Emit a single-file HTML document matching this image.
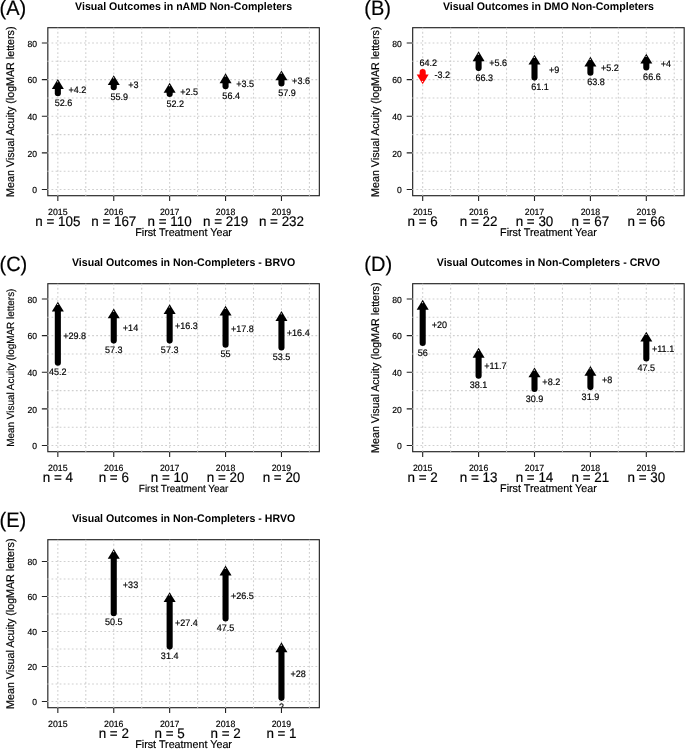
<!DOCTYPE html><html><head><meta charset="utf-8"><style>
html,body{margin:0;padding:0;background:#fff;}
svg{display:block;will-change:transform;}
text{font-family:"Liberation Sans", sans-serif;text-rendering:geometricPrecision;}
</style></head><body>
<svg width="685" height="749" viewBox="0 0 685 749">
<rect width="685" height="749" fill="#fff"/>
<g transform="translate(0,0)">
<clipPath id="c0"><rect x="47.83" y="27.7" width="271.51" height="168"/></clipPath>
<text font-size="20.8" stroke="#000" stroke-width="0.18" fill="#000" transform="translate(-0.5,14.5) scale(0.9615,1)">(A)</text>
<text font-size="11.02" font-weight="bold" text-anchor="middle" fill="#000" transform="translate(183.58,9.5) scale(0.9615,1)">Visual Outcomes in nAMD Non-Completers</text>
<rect x="47.83" y="27.7" width="271.51" height="168" fill="none" stroke="#222" stroke-width="1.15"/>
<text font-size="8.94" text-anchor="end" stroke="#000" stroke-width="0.18" fill="#000" transform="translate(37,193.25) scale(0.9615,1)">0</text>
<text font-size="8.94" text-anchor="end" stroke="#000" stroke-width="0.18" fill="#000" transform="translate(37,156.61) scale(0.9615,1)">20</text>
<text font-size="8.94" text-anchor="end" stroke="#000" stroke-width="0.18" fill="#000" transform="translate(37,119.97) scale(0.9615,1)">40</text>
<text font-size="8.94" text-anchor="end" stroke="#000" stroke-width="0.18" fill="#000" transform="translate(37,83.34) scale(0.9615,1)">60</text>
<text font-size="8.94" text-anchor="end" stroke="#000" stroke-width="0.18" fill="#000" transform="translate(37,46.7) scale(0.9615,1)">80</text>
<path d="M41.85 189.55H47.83M41.85 152.91H47.83M41.85 116.27H47.83M41.85 79.64H47.83M41.85 43H47.83M57.84 195.7V200.9M113.75 195.7V200.9M169.65 195.7V200.9M225.56 195.7V200.9M281.46 195.7V200.9" stroke="#222" stroke-width="1.1" fill="none"/>
<path d="M57.84 27.77V195.7M85.79 27.77V195.7M113.75 27.77V195.7M141.7 27.77V195.7M169.65 27.77V195.7M197.6 27.77V195.7M225.56 27.77V195.7M253.51 27.77V195.7M281.46 27.77V195.7M309.41 27.77V195.7M47.46 189.55H319.34M47.46 171.23H319.34M47.46 152.91H319.34M47.46 134.59H319.34M47.46 116.27H319.34M47.46 97.96H319.34M47.46 79.64H319.34M47.46 61.32H319.34M47.46 43H319.34" stroke="#d0d0d0" stroke-width="1.1" stroke-dasharray="1.8 2.26" fill="none"/>
<text font-size="9.1" text-anchor="middle" stroke="#000" stroke-width="0.18" fill="#000" transform="translate(57.84,214.7) scale(0.9615,1)">2015</text>
<text font-size="13.94" text-anchor="middle" stroke="#000" stroke-width="0.18" fill="#000" transform="translate(57.84,225.6) scale(0.9615,1)">n = 105</text>
<text font-size="9.1" text-anchor="middle" stroke="#000" stroke-width="0.18" fill="#000" transform="translate(113.75,214.7) scale(0.9615,1)">2016</text>
<text font-size="13.94" text-anchor="middle" stroke="#000" stroke-width="0.18" fill="#000" transform="translate(113.75,225.6) scale(0.9615,1)">n = 167</text>
<text font-size="9.1" text-anchor="middle" stroke="#000" stroke-width="0.18" fill="#000" transform="translate(169.65,214.7) scale(0.9615,1)">2017</text>
<text font-size="13.94" text-anchor="middle" stroke="#000" stroke-width="0.18" fill="#000" transform="translate(169.65,225.6) scale(0.9615,1)">n = 110</text>
<text font-size="9.1" text-anchor="middle" stroke="#000" stroke-width="0.18" fill="#000" transform="translate(225.56,214.7) scale(0.9615,1)">2018</text>
<text font-size="13.94" text-anchor="middle" stroke="#000" stroke-width="0.18" fill="#000" transform="translate(225.56,225.6) scale(0.9615,1)">n = 219</text>
<text font-size="9.1" text-anchor="middle" stroke="#000" stroke-width="0.18" fill="#000" transform="translate(281.46,214.7) scale(0.9615,1)">2019</text>
<text font-size="13.94" text-anchor="middle" stroke="#000" stroke-width="0.18" fill="#000" transform="translate(281.46,225.6) scale(0.9615,1)">n = 232</text>
<text font-size="11.18" text-anchor="middle" stroke="#000" stroke-width="0.18" fill="#000" transform="translate(183.58,236.3) scale(0.9615,1)">First Treatment Year</text>
<text font-size="11.13" text-anchor="middle" stroke="#000" stroke-width="0.18" fill="#000" transform="translate(13.9,111.7) rotate(-90) scale(0.9615,1)">Mean Visual Acuity (logMAR letters)</text>
<g clip-path="url(#c0)">
<path d="M57.84 93.19V88.4" stroke="#000" stroke-width="6.1" stroke-linecap="round" fill="none"/>
<path d="M57.84 79L63.84 88.9L51.84 88.9Z" fill="#000"/>
<ellipse cx="57.64" cy="81.8" rx="0.7" ry="0.6" fill="#ddd"/>
<text font-size="9.41" text-anchor="middle" stroke="#000" stroke-width="0.18" fill="#000" transform="translate(63.43,105.85) scale(0.9615,1)">52.6</text>
<text font-size="9.41" text-anchor="middle" stroke="#000" stroke-width="0.18" fill="#000" transform="translate(77.41,92.85) scale(0.9615,1)">+4.2</text>
<path d="M113.75 87.15V84.55" stroke="#000" stroke-width="6.1" stroke-linecap="round" fill="none"/>
<path d="M113.75 75.15L119.75 85.05L107.75 85.05Z" fill="#000"/>
<ellipse cx="113.55" cy="77.95" rx="0.7" ry="0.6" fill="#ddd"/>
<text font-size="9.41" text-anchor="middle" stroke="#000" stroke-width="0.18" fill="#000" transform="translate(119.34,99.81) scale(0.9615,1)">55.9</text>
<text font-size="9.41" text-anchor="middle" stroke="#000" stroke-width="0.18" fill="#000" transform="translate(133.31,87.9) scale(0.9615,1)">+3</text>
<path d="M169.65 93.92V92.25" stroke="#000" stroke-width="6.1" stroke-linecap="round" fill="none"/>
<path d="M169.65 82.85L175.65 92.75L163.65 92.75Z" fill="#000"/>
<ellipse cx="169.45" cy="85.65" rx="0.7" ry="0.6" fill="#ddd"/>
<text font-size="9.41" text-anchor="middle" stroke="#000" stroke-width="0.18" fill="#000" transform="translate(175.24,106.58) scale(0.9615,1)">52.2</text>
<text font-size="9.41" text-anchor="middle" stroke="#000" stroke-width="0.18" fill="#000" transform="translate(189.22,95.13) scale(0.9615,1)">+2.5</text>
<path d="M225.56 86.23V82.72" stroke="#000" stroke-width="6.1" stroke-linecap="round" fill="none"/>
<path d="M225.56 73.32L231.56 83.22L219.56 83.22Z" fill="#000"/>
<ellipse cx="225.36" cy="76.12" rx="0.7" ry="0.6" fill="#ddd"/>
<text font-size="9.41" text-anchor="middle" stroke="#000" stroke-width="0.18" fill="#000" transform="translate(231.15,98.89) scale(0.9615,1)">56.4</text>
<text font-size="9.41" text-anchor="middle" stroke="#000" stroke-width="0.18" fill="#000" transform="translate(245.12,86.53) scale(0.9615,1)">+3.5</text>
<path d="M281.46 83.48V79.79" stroke="#000" stroke-width="6.1" stroke-linecap="round" fill="none"/>
<path d="M281.46 70.39L287.46 80.29L275.46 80.29Z" fill="#000"/>
<ellipse cx="281.26" cy="73.19" rx="0.7" ry="0.6" fill="#ddd"/>
<text font-size="9.41" text-anchor="middle" stroke="#000" stroke-width="0.18" fill="#000" transform="translate(287.05,96.14) scale(0.9615,1)">57.9</text>
<text font-size="9.41" text-anchor="middle" stroke="#000" stroke-width="0.18" fill="#000" transform="translate(301.03,83.69) scale(0.9615,1)">+3.6</text>
</g>
</g>
<g transform="translate(364.85,0)">
<clipPath id="c1"><rect x="47.83" y="27.7" width="271.51" height="168"/></clipPath>
<text font-size="20.8" stroke="#000" stroke-width="0.18" fill="#000" transform="translate(-0.5,14.5) scale(0.9615,1)">(B)</text>
<text font-size="11.02" font-weight="bold" text-anchor="middle" fill="#000" transform="translate(183.58,9.5) scale(0.9615,1)">Visual Outcomes in DMO Non-Completers</text>
<rect x="47.83" y="27.7" width="271.51" height="168" fill="none" stroke="#222" stroke-width="1.15"/>
<text font-size="8.94" text-anchor="end" stroke="#000" stroke-width="0.18" fill="#000" transform="translate(37,193.25) scale(0.9615,1)">0</text>
<text font-size="8.94" text-anchor="end" stroke="#000" stroke-width="0.18" fill="#000" transform="translate(37,156.61) scale(0.9615,1)">20</text>
<text font-size="8.94" text-anchor="end" stroke="#000" stroke-width="0.18" fill="#000" transform="translate(37,119.97) scale(0.9615,1)">40</text>
<text font-size="8.94" text-anchor="end" stroke="#000" stroke-width="0.18" fill="#000" transform="translate(37,83.34) scale(0.9615,1)">60</text>
<text font-size="8.94" text-anchor="end" stroke="#000" stroke-width="0.18" fill="#000" transform="translate(37,46.7) scale(0.9615,1)">80</text>
<path d="M41.85 189.55H47.83M41.85 152.91H47.83M41.85 116.27H47.83M41.85 79.64H47.83M41.85 43H47.83M57.84 195.7V200.9M113.75 195.7V200.9M169.65 195.7V200.9M225.56 195.7V200.9M281.46 195.7V200.9" stroke="#222" stroke-width="1.1" fill="none"/>
<path d="M57.84 27.77V195.7M85.79 27.77V195.7M113.75 27.77V195.7M141.7 27.77V195.7M169.65 27.77V195.7M197.6 27.77V195.7M225.56 27.77V195.7M253.51 27.77V195.7M281.46 27.77V195.7M309.41 27.77V195.7M47.46 189.55H319.34M47.46 171.23H319.34M47.46 152.91H319.34M47.46 134.59H319.34M47.46 116.27H319.34M47.46 97.96H319.34M47.46 79.64H319.34M47.46 61.32H319.34M47.46 43H319.34" stroke="#d0d0d0" stroke-width="1.1" stroke-dasharray="1.8 2.26" fill="none"/>
<text font-size="9.1" text-anchor="middle" stroke="#000" stroke-width="0.18" fill="#000" transform="translate(57.84,214.7) scale(0.9615,1)">2015</text>
<text font-size="13.94" text-anchor="middle" stroke="#000" stroke-width="0.18" fill="#000" transform="translate(57.84,225.6) scale(0.9615,1)">n = 6</text>
<text font-size="9.1" text-anchor="middle" stroke="#000" stroke-width="0.18" fill="#000" transform="translate(113.75,214.7) scale(0.9615,1)">2016</text>
<text font-size="13.94" text-anchor="middle" stroke="#000" stroke-width="0.18" fill="#000" transform="translate(113.75,225.6) scale(0.9615,1)">n = 22</text>
<text font-size="9.1" text-anchor="middle" stroke="#000" stroke-width="0.18" fill="#000" transform="translate(169.65,214.7) scale(0.9615,1)">2017</text>
<text font-size="13.94" text-anchor="middle" stroke="#000" stroke-width="0.18" fill="#000" transform="translate(169.65,225.6) scale(0.9615,1)">n = 30</text>
<text font-size="9.1" text-anchor="middle" stroke="#000" stroke-width="0.18" fill="#000" transform="translate(225.56,214.7) scale(0.9615,1)">2018</text>
<text font-size="13.94" text-anchor="middle" stroke="#000" stroke-width="0.18" fill="#000" transform="translate(225.56,225.6) scale(0.9615,1)">n = 67</text>
<text font-size="9.1" text-anchor="middle" stroke="#000" stroke-width="0.18" fill="#000" transform="translate(281.46,214.7) scale(0.9615,1)">2019</text>
<text font-size="13.94" text-anchor="middle" stroke="#000" stroke-width="0.18" fill="#000" transform="translate(281.46,225.6) scale(0.9615,1)">n = 66</text>
<text font-size="11.18" text-anchor="middle" stroke="#000" stroke-width="0.18" fill="#000" transform="translate(183.58,236.3) scale(0.9615,1)">First Treatment Year</text>
<text font-size="11.13" text-anchor="middle" stroke="#000" stroke-width="0.18" fill="#000" transform="translate(13.9,111.7) rotate(-90) scale(0.9615,1)">Mean Visual Acuity (logMAR letters)</text>
<g clip-path="url(#c1)">
<path d="M57.84 71.94V74.9" stroke="#f00" stroke-width="6.1" stroke-linecap="round" fill="none"/>
<path d="M57.84 84.3L63.84 74.4L51.84 74.4Z" fill="#f00"/>
<ellipse cx="57.64" cy="81.45" rx="0.7" ry="0.6" fill="#eee"/>
<text font-size="9.41" text-anchor="middle" stroke="#000" stroke-width="0.18" fill="#000" transform="translate(63.43,66.28) scale(0.9615,1)">64.2</text>
<text font-size="9.41" text-anchor="middle" stroke="#000" stroke-width="0.18" fill="#000" transform="translate(77.41,78.37) scale(0.9615,1)">-3.2</text>
<path d="M113.75 68.1V60.74" stroke="#000" stroke-width="6.1" stroke-linecap="round" fill="none"/>
<path d="M113.75 51.34L119.75 61.24L107.75 61.24Z" fill="#000"/>
<ellipse cx="113.55" cy="54.14" rx="0.7" ry="0.6" fill="#ddd"/>
<text font-size="9.41" text-anchor="middle" stroke="#000" stroke-width="0.18" fill="#000" transform="translate(119.34,80.75) scale(0.9615,1)">66.3</text>
<text font-size="9.41" text-anchor="middle" stroke="#000" stroke-width="0.18" fill="#000" transform="translate(133.31,66.47) scale(0.9615,1)">+5.6</text>
<path d="M169.65 77.62V64.03" stroke="#000" stroke-width="6.1" stroke-linecap="round" fill="none"/>
<path d="M169.65 54.63L175.65 64.53L163.65 64.53Z" fill="#000"/>
<ellipse cx="169.45" cy="57.43" rx="0.7" ry="0.6" fill="#ddd"/>
<text font-size="9.41" text-anchor="middle" stroke="#000" stroke-width="0.18" fill="#000" transform="translate(175.24,90.28) scale(0.9615,1)">61.1</text>
<text font-size="9.41" text-anchor="middle" stroke="#000" stroke-width="0.18" fill="#000" transform="translate(189.22,72.88) scale(0.9615,1)">+9</text>
<path d="M225.56 72.67V66.05" stroke="#000" stroke-width="6.1" stroke-linecap="round" fill="none"/>
<path d="M225.56 56.65L231.56 66.55L219.56 66.55Z" fill="#000"/>
<ellipse cx="225.36" cy="59.45" rx="0.7" ry="0.6" fill="#ddd"/>
<text font-size="9.41" text-anchor="middle" stroke="#000" stroke-width="0.18" fill="#000" transform="translate(231.15,85.33) scale(0.9615,1)">63.8</text>
<text font-size="9.41" text-anchor="middle" stroke="#000" stroke-width="0.18" fill="#000" transform="translate(245.12,71.41) scale(0.9615,1)">+5.2</text>
<path d="M281.46 67.55V63.12" stroke="#000" stroke-width="6.1" stroke-linecap="round" fill="none"/>
<path d="M281.46 53.72L287.46 63.62L275.46 63.62Z" fill="#000"/>
<ellipse cx="281.26" cy="56.52" rx="0.7" ry="0.6" fill="#ddd"/>
<text font-size="9.41" text-anchor="middle" stroke="#000" stroke-width="0.18" fill="#000" transform="translate(287.05,80.2) scale(0.9615,1)">66.6</text>
<text font-size="9.41" text-anchor="middle" stroke="#000" stroke-width="0.18" fill="#000" transform="translate(301.03,67.38) scale(0.9615,1)">+4</text>
</g>
</g>
<g transform="translate(0,256)">
<clipPath id="c2"><rect x="47.83" y="27.7" width="271.51" height="168"/></clipPath>
<text font-size="20.8" stroke="#000" stroke-width="0.18" fill="#000" transform="translate(-0.5,14.5) scale(0.9615,1)">(C)</text>
<text font-size="11.02" font-weight="bold" text-anchor="middle" fill="#000" transform="translate(183.58,9.5) scale(0.9615,1)">Visual Outcomes in Non-Completers - BRVO</text>
<rect x="47.83" y="27.7" width="271.51" height="168" fill="none" stroke="#222" stroke-width="1.15"/>
<text font-size="8.94" text-anchor="end" stroke="#000" stroke-width="0.18" fill="#000" transform="translate(37,193.25) scale(0.9615,1)">0</text>
<text font-size="8.94" text-anchor="end" stroke="#000" stroke-width="0.18" fill="#000" transform="translate(37,156.61) scale(0.9615,1)">20</text>
<text font-size="8.94" text-anchor="end" stroke="#000" stroke-width="0.18" fill="#000" transform="translate(37,119.97) scale(0.9615,1)">40</text>
<text font-size="8.94" text-anchor="end" stroke="#000" stroke-width="0.18" fill="#000" transform="translate(37,83.34) scale(0.9615,1)">60</text>
<text font-size="8.94" text-anchor="end" stroke="#000" stroke-width="0.18" fill="#000" transform="translate(37,46.7) scale(0.9615,1)">80</text>
<path d="M41.85 189.55H47.83M41.85 152.91H47.83M41.85 116.27H47.83M41.85 79.64H47.83M41.85 43H47.83M57.84 195.7V200.9M113.75 195.7V200.9M169.65 195.7V200.9M225.56 195.7V200.9M281.46 195.7V200.9" stroke="#222" stroke-width="1.1" fill="none"/>
<path d="M57.84 27.77V195.7M85.79 27.77V195.7M113.75 27.77V195.7M141.7 27.77V195.7M169.65 27.77V195.7M197.6 27.77V195.7M225.56 27.77V195.7M253.51 27.77V195.7M281.46 27.77V195.7M309.41 27.77V195.7M47.46 189.55H319.34M47.46 171.23H319.34M47.46 152.91H319.34M47.46 134.59H319.34M47.46 116.27H319.34M47.46 97.96H319.34M47.46 79.64H319.34M47.46 61.32H319.34M47.46 43H319.34" stroke="#d0d0d0" stroke-width="1.1" stroke-dasharray="1.8 2.26" fill="none"/>
<text font-size="9.1" text-anchor="middle" stroke="#000" stroke-width="0.18" fill="#000" transform="translate(57.84,214.7) scale(0.9615,1)">2015</text>
<text font-size="13.94" text-anchor="middle" stroke="#000" stroke-width="0.18" fill="#000" transform="translate(57.84,225.6) scale(0.9615,1)">n = 4</text>
<text font-size="9.1" text-anchor="middle" stroke="#000" stroke-width="0.18" fill="#000" transform="translate(113.75,214.7) scale(0.9615,1)">2016</text>
<text font-size="13.94" text-anchor="middle" stroke="#000" stroke-width="0.18" fill="#000" transform="translate(113.75,225.6) scale(0.9615,1)">n = 6</text>
<text font-size="9.1" text-anchor="middle" stroke="#000" stroke-width="0.18" fill="#000" transform="translate(169.65,214.7) scale(0.9615,1)">2017</text>
<text font-size="13.94" text-anchor="middle" stroke="#000" stroke-width="0.18" fill="#000" transform="translate(169.65,225.6) scale(0.9615,1)">n = 10</text>
<text font-size="9.1" text-anchor="middle" stroke="#000" stroke-width="0.18" fill="#000" transform="translate(225.56,214.7) scale(0.9615,1)">2018</text>
<text font-size="13.94" text-anchor="middle" stroke="#000" stroke-width="0.18" fill="#000" transform="translate(225.56,225.6) scale(0.9615,1)">n = 20</text>
<text font-size="9.1" text-anchor="middle" stroke="#000" stroke-width="0.18" fill="#000" transform="translate(281.46,214.7) scale(0.9615,1)">2019</text>
<text font-size="13.94" text-anchor="middle" stroke="#000" stroke-width="0.18" fill="#000" transform="translate(281.46,225.6) scale(0.9615,1)">n = 20</text>
<text font-size="10.35" text-anchor="middle" stroke="#000" stroke-width="0.18" fill="#000" transform="translate(183.58,236.3) scale(0.9615,1)">First Treatment Year</text>
<text font-size="10.33" text-anchor="middle" stroke="#000" stroke-width="0.18" fill="#000" transform="translate(14,111.7) rotate(-90) scale(0.9615,1)">Mean Visual Acuity (logMAR letters)</text>
<g clip-path="url(#c2)">
<path d="M57.84 106.75V55.06" stroke="#000" stroke-width="6.1" stroke-linecap="round" fill="none"/>
<path d="M57.84 45.66L63.84 55.56L51.84 55.56Z" fill="#000"/>
<ellipse cx="57.64" cy="48.46" rx="0.7" ry="0.6" fill="#ddd"/>
<text font-size="9.41" text-anchor="middle" stroke="#000" stroke-width="0.18" fill="#000" transform="translate(57.84,119.41) scale(0.9615,1)">45.2</text>
<text font-size="9.41" text-anchor="middle" stroke="#000" stroke-width="0.18" fill="#000" transform="translate(74.61,82.95) scale(0.9615,1)">+29.8</text>
<path d="M113.75 84.58V61.84" stroke="#000" stroke-width="6.1" stroke-linecap="round" fill="none"/>
<path d="M113.75 52.44L119.75 62.34L107.75 62.34Z" fill="#000"/>
<ellipse cx="113.55" cy="55.24" rx="0.7" ry="0.6" fill="#ddd"/>
<text font-size="9.41" text-anchor="middle" stroke="#000" stroke-width="0.18" fill="#000" transform="translate(113.75,97.24) scale(0.9615,1)">57.3</text>
<text font-size="9.41" text-anchor="middle" stroke="#000" stroke-width="0.18" fill="#000" transform="translate(130.52,75.26) scale(0.9615,1)">+14</text>
<path d="M169.65 84.58V57.62" stroke="#000" stroke-width="6.1" stroke-linecap="round" fill="none"/>
<path d="M169.65 48.22L175.65 58.12L163.65 58.12Z" fill="#000"/>
<ellipse cx="169.45" cy="51.02" rx="0.7" ry="0.6" fill="#ddd"/>
<text font-size="9.41" text-anchor="middle" stroke="#000" stroke-width="0.18" fill="#000" transform="translate(169.65,97.24) scale(0.9615,1)">57.3</text>
<text font-size="9.41" text-anchor="middle" stroke="#000" stroke-width="0.18" fill="#000" transform="translate(186.42,73.15) scale(0.9615,1)">+16.3</text>
<path d="M225.56 88.8V59.09" stroke="#000" stroke-width="6.1" stroke-linecap="round" fill="none"/>
<path d="M225.56 49.69L231.56 59.59L219.56 59.59Z" fill="#000"/>
<ellipse cx="225.36" cy="52.49" rx="0.7" ry="0.6" fill="#ddd"/>
<text font-size="9.41" text-anchor="middle" stroke="#000" stroke-width="0.18" fill="#000" transform="translate(225.56,101.46) scale(0.9615,1)">55</text>
<text font-size="9.41" text-anchor="middle" stroke="#000" stroke-width="0.18" fill="#000" transform="translate(242.33,75.99) scale(0.9615,1)">+17.8</text>
<path d="M281.46 91.54V64.4" stroke="#000" stroke-width="6.1" stroke-linecap="round" fill="none"/>
<path d="M281.46 55L287.46 64.9L275.46 64.9Z" fill="#000"/>
<ellipse cx="281.26" cy="57.8" rx="0.7" ry="0.6" fill="#ddd"/>
<text font-size="9.41" text-anchor="middle" stroke="#000" stroke-width="0.18" fill="#000" transform="translate(281.46,104.2) scale(0.9615,1)">53.5</text>
<text font-size="9.41" text-anchor="middle" stroke="#000" stroke-width="0.18" fill="#000" transform="translate(298.23,80.02) scale(0.9615,1)">+16.4</text>
</g>
</g>
<g transform="translate(364.85,256)">
<clipPath id="c3"><rect x="47.83" y="27.7" width="271.51" height="168"/></clipPath>
<text font-size="20.8" stroke="#000" stroke-width="0.18" fill="#000" transform="translate(-0.5,14.5) scale(0.9615,1)">(D)</text>
<text font-size="11.02" font-weight="bold" text-anchor="middle" fill="#000" transform="translate(183.58,9.5) scale(0.9615,1)">Visual Outcomes in Non-Completers - CRVO</text>
<rect x="47.83" y="27.7" width="271.51" height="168" fill="none" stroke="#222" stroke-width="1.15"/>
<text font-size="8.94" text-anchor="end" stroke="#000" stroke-width="0.18" fill="#000" transform="translate(37,193.25) scale(0.9615,1)">0</text>
<text font-size="8.94" text-anchor="end" stroke="#000" stroke-width="0.18" fill="#000" transform="translate(37,156.61) scale(0.9615,1)">20</text>
<text font-size="8.94" text-anchor="end" stroke="#000" stroke-width="0.18" fill="#000" transform="translate(37,119.97) scale(0.9615,1)">40</text>
<text font-size="8.94" text-anchor="end" stroke="#000" stroke-width="0.18" fill="#000" transform="translate(37,83.34) scale(0.9615,1)">60</text>
<text font-size="8.94" text-anchor="end" stroke="#000" stroke-width="0.18" fill="#000" transform="translate(37,46.7) scale(0.9615,1)">80</text>
<path d="M41.85 189.55H47.83M41.85 152.91H47.83M41.85 116.27H47.83M41.85 79.64H47.83M41.85 43H47.83M57.84 195.7V200.9M113.75 195.7V200.9M169.65 195.7V200.9M225.56 195.7V200.9M281.46 195.7V200.9" stroke="#222" stroke-width="1.1" fill="none"/>
<path d="M57.84 27.77V195.7M85.79 27.77V195.7M113.75 27.77V195.7M141.7 27.77V195.7M169.65 27.77V195.7M197.6 27.77V195.7M225.56 27.77V195.7M253.51 27.77V195.7M281.46 27.77V195.7M309.41 27.77V195.7M47.46 189.55H319.34M47.46 171.23H319.34M47.46 152.91H319.34M47.46 134.59H319.34M47.46 116.27H319.34M47.46 97.96H319.34M47.46 79.64H319.34M47.46 61.32H319.34M47.46 43H319.34" stroke="#d0d0d0" stroke-width="1.1" stroke-dasharray="1.8 2.26" fill="none"/>
<text font-size="9.1" text-anchor="middle" stroke="#000" stroke-width="0.18" fill="#000" transform="translate(57.84,214.7) scale(0.9615,1)">2015</text>
<text font-size="13.94" text-anchor="middle" stroke="#000" stroke-width="0.18" fill="#000" transform="translate(57.84,225.6) scale(0.9615,1)">n = 2</text>
<text font-size="9.1" text-anchor="middle" stroke="#000" stroke-width="0.18" fill="#000" transform="translate(113.75,214.7) scale(0.9615,1)">2016</text>
<text font-size="13.94" text-anchor="middle" stroke="#000" stroke-width="0.18" fill="#000" transform="translate(113.75,225.6) scale(0.9615,1)">n = 13</text>
<text font-size="9.1" text-anchor="middle" stroke="#000" stroke-width="0.18" fill="#000" transform="translate(169.65,214.7) scale(0.9615,1)">2017</text>
<text font-size="13.94" text-anchor="middle" stroke="#000" stroke-width="0.18" fill="#000" transform="translate(169.65,225.6) scale(0.9615,1)">n = 14</text>
<text font-size="9.1" text-anchor="middle" stroke="#000" stroke-width="0.18" fill="#000" transform="translate(225.56,214.7) scale(0.9615,1)">2018</text>
<text font-size="13.94" text-anchor="middle" stroke="#000" stroke-width="0.18" fill="#000" transform="translate(225.56,225.6) scale(0.9615,1)">n = 21</text>
<text font-size="9.1" text-anchor="middle" stroke="#000" stroke-width="0.18" fill="#000" transform="translate(281.46,214.7) scale(0.9615,1)">2019</text>
<text font-size="13.94" text-anchor="middle" stroke="#000" stroke-width="0.18" fill="#000" transform="translate(281.46,225.6) scale(0.9615,1)">n = 30</text>
<text font-size="11.18" text-anchor="middle" stroke="#000" stroke-width="0.18" fill="#000" transform="translate(183.58,236.3) scale(0.9615,1)">First Treatment Year</text>
<text font-size="11.13" text-anchor="middle" stroke="#000" stroke-width="0.18" fill="#000" transform="translate(13.9,111.7) rotate(-90) scale(0.9615,1)">Mean Visual Acuity (logMAR letters)</text>
<g clip-path="url(#c3)">
<path d="M57.84 86.96V53.23" stroke="#000" stroke-width="6.1" stroke-linecap="round" fill="none"/>
<path d="M57.84 43.83L63.84 53.73L51.84 53.73Z" fill="#000"/>
<ellipse cx="57.64" cy="46.63" rx="0.7" ry="0.6" fill="#ddd"/>
<text font-size="9.41" text-anchor="middle" stroke="#000" stroke-width="0.18" fill="#000" transform="translate(57.84,99.62) scale(0.9615,1)">56</text>
<text font-size="9.41" text-anchor="middle" stroke="#000" stroke-width="0.18" fill="#000" transform="translate(74.61,72.14) scale(0.9615,1)">+20</text>
<path d="M113.75 119.75V101.22" stroke="#000" stroke-width="6.1" stroke-linecap="round" fill="none"/>
<path d="M113.75 91.82L119.75 101.72L107.75 101.72Z" fill="#000"/>
<ellipse cx="113.55" cy="94.62" rx="0.7" ry="0.6" fill="#ddd"/>
<text font-size="9.41" text-anchor="middle" stroke="#000" stroke-width="0.18" fill="#000" transform="translate(113.75,132.41) scale(0.9615,1)">38.1</text>
<text font-size="9.41" text-anchor="middle" stroke="#000" stroke-width="0.18" fill="#000" transform="translate(130.52,112.54) scale(0.9615,1)">+11.7</text>
<path d="M169.65 132.94V120.82" stroke="#000" stroke-width="6.1" stroke-linecap="round" fill="none"/>
<path d="M169.65 111.42L175.65 121.32L163.65 121.32Z" fill="#000"/>
<ellipse cx="169.45" cy="114.22" rx="0.7" ry="0.6" fill="#ddd"/>
<text font-size="9.41" text-anchor="middle" stroke="#000" stroke-width="0.18" fill="#000" transform="translate(169.65,145.6) scale(0.9615,1)">30.9</text>
<text font-size="9.41" text-anchor="middle" stroke="#000" stroke-width="0.18" fill="#000" transform="translate(186.42,128.93) scale(0.9615,1)">+8.2</text>
<path d="M225.56 131.11V119.36" stroke="#000" stroke-width="6.1" stroke-linecap="round" fill="none"/>
<path d="M225.56 109.96L231.56 119.86L219.56 119.86Z" fill="#000"/>
<ellipse cx="225.36" cy="112.76" rx="0.7" ry="0.6" fill="#ddd"/>
<text font-size="9.41" text-anchor="middle" stroke="#000" stroke-width="0.18" fill="#000" transform="translate(225.56,143.77) scale(0.9615,1)">31.9</text>
<text font-size="9.41" text-anchor="middle" stroke="#000" stroke-width="0.18" fill="#000" transform="translate(242.33,127.28) scale(0.9615,1)">+8</text>
<path d="M281.46 102.53V85.1" stroke="#000" stroke-width="6.1" stroke-linecap="round" fill="none"/>
<path d="M281.46 75.7L287.46 85.6L275.46 85.6Z" fill="#000"/>
<ellipse cx="281.26" cy="78.5" rx="0.7" ry="0.6" fill="#ddd"/>
<text font-size="9.41" text-anchor="middle" stroke="#000" stroke-width="0.18" fill="#000" transform="translate(281.46,115.19) scale(0.9615,1)">47.5</text>
<text font-size="9.41" text-anchor="middle" stroke="#000" stroke-width="0.18" fill="#000" transform="translate(298.23,95.87) scale(0.9615,1)">+11.1</text>
</g>
</g>
<g transform="translate(0,512)">
<clipPath id="c4"><rect x="47.83" y="27.7" width="271.51" height="168"/></clipPath>
<text font-size="20.8" stroke="#000" stroke-width="0.18" fill="#000" transform="translate(-0.5,14.5) scale(0.9615,1)">(E)</text>
<text font-size="11.02" font-weight="bold" text-anchor="middle" fill="#000" transform="translate(183.58,9.5) scale(0.9615,1)">Visual Outcomes in Non-Completers - HRVO</text>
<rect x="47.83" y="27.7" width="271.51" height="168" fill="none" stroke="#222" stroke-width="1.15"/>
<text font-size="8.94" text-anchor="end" stroke="#000" stroke-width="0.18" fill="#000" transform="translate(37,193.23) scale(0.9615,1)">0</text>
<text font-size="8.94" text-anchor="end" stroke="#000" stroke-width="0.18" fill="#000" transform="translate(37,158.23) scale(0.9615,1)">20</text>
<text font-size="8.94" text-anchor="end" stroke="#000" stroke-width="0.18" fill="#000" transform="translate(37,123.23) scale(0.9615,1)">40</text>
<text font-size="8.94" text-anchor="end" stroke="#000" stroke-width="0.18" fill="#000" transform="translate(37,88.23) scale(0.9615,1)">60</text>
<text font-size="8.94" text-anchor="end" stroke="#000" stroke-width="0.18" fill="#000" transform="translate(37,53.23) scale(0.9615,1)">80</text>
<path d="M41.85 189.53H47.83M41.85 154.53H47.83M41.85 119.53H47.83M41.85 84.53H47.83M41.85 49.53H47.83M57.84 195.7V200.9M113.75 195.7V200.9M169.65 195.7V200.9M225.56 195.7V200.9M281.46 195.7V200.9" stroke="#222" stroke-width="1.1" fill="none"/>
<path d="M57.84 27.77V195.7M85.79 27.77V195.7M113.75 27.77V195.7M141.7 27.77V195.7M169.65 27.77V195.7M197.6 27.77V195.7M225.56 27.77V195.7M253.51 27.77V195.7M281.46 27.77V195.7M309.41 27.77V195.7M47.46 189.53H319.34M47.46 172.03H319.34M47.46 154.53H319.34M47.46 137.03H319.34M47.46 119.53H319.34M47.46 102.03H319.34M47.46 84.53H319.34M47.46 67.03H319.34M47.46 49.53H319.34" stroke="#d0d0d0" stroke-width="1.1" stroke-dasharray="1.8 2.26" fill="none"/>
<text font-size="9.1" text-anchor="middle" stroke="#000" stroke-width="0.18" fill="#000" transform="translate(57.84,214.7) scale(0.9615,1)">2015</text>
<text font-size="9.1" text-anchor="middle" stroke="#000" stroke-width="0.18" fill="#000" transform="translate(113.75,214.7) scale(0.9615,1)">2016</text>
<text font-size="13.94" text-anchor="middle" stroke="#000" stroke-width="0.18" fill="#000" transform="translate(113.75,225.6) scale(0.9615,1)">n = 2</text>
<text font-size="9.1" text-anchor="middle" stroke="#000" stroke-width="0.18" fill="#000" transform="translate(169.65,214.7) scale(0.9615,1)">2017</text>
<text font-size="13.94" text-anchor="middle" stroke="#000" stroke-width="0.18" fill="#000" transform="translate(169.65,225.6) scale(0.9615,1)">n = 5</text>
<text font-size="9.1" text-anchor="middle" stroke="#000" stroke-width="0.18" fill="#000" transform="translate(225.56,214.7) scale(0.9615,1)">2018</text>
<text font-size="13.94" text-anchor="middle" stroke="#000" stroke-width="0.18" fill="#000" transform="translate(225.56,225.6) scale(0.9615,1)">n = 2</text>
<text font-size="9.1" text-anchor="middle" stroke="#000" stroke-width="0.18" fill="#000" transform="translate(281.46,214.7) scale(0.9615,1)">2019</text>
<text font-size="13.94" text-anchor="middle" stroke="#000" stroke-width="0.18" fill="#000" transform="translate(281.46,225.6) scale(0.9615,1)">n = 1</text>
<text font-size="11.18" text-anchor="middle" stroke="#000" stroke-width="0.18" fill="#000" transform="translate(183.58,236.3) scale(0.9615,1)">First Treatment Year</text>
<text font-size="11.13" text-anchor="middle" stroke="#000" stroke-width="0.18" fill="#000" transform="translate(13.9,111.7) rotate(-90) scale(0.9615,1)">Mean Visual Acuity (logMAR letters)</text>
<g clip-path="url(#c4)">
<path d="M113.75 101.16V46.3" stroke="#000" stroke-width="6.1" stroke-linecap="round" fill="none"/>
<path d="M113.75 36.91L119.75 46.8L107.75 46.8Z" fill="#000"/>
<ellipse cx="113.55" cy="39.7" rx="0.7" ry="0.6" fill="#ddd"/>
<text font-size="9.41" text-anchor="middle" stroke="#000" stroke-width="0.18" fill="#000" transform="translate(113.75,113.41) scale(0.9615,1)">50.5</text>
<text font-size="9.41" text-anchor="middle" stroke="#000" stroke-width="0.18" fill="#000" transform="translate(130.52,75.78) scale(0.9615,1)">+33</text>
<path d="M169.65 134.58V89.53" stroke="#000" stroke-width="6.1" stroke-linecap="round" fill="none"/>
<path d="M169.65 80.13L175.65 90.03L163.65 90.03Z" fill="#000"/>
<ellipse cx="169.45" cy="82.93" rx="0.7" ry="0.6" fill="#ddd"/>
<text font-size="9.41" text-anchor="middle" stroke="#000" stroke-width="0.18" fill="#000" transform="translate(169.65,146.83) scale(0.9615,1)">31.4</text>
<text font-size="9.41" text-anchor="middle" stroke="#000" stroke-width="0.18" fill="#000" transform="translate(186.42,114.11) scale(0.9615,1)">+27.4</text>
<path d="M225.56 106.41V62.93" stroke="#000" stroke-width="6.1" stroke-linecap="round" fill="none"/>
<path d="M225.56 53.53L231.56 63.43L219.56 63.43Z" fill="#000"/>
<ellipse cx="225.36" cy="56.33" rx="0.7" ry="0.6" fill="#ddd"/>
<text font-size="9.41" text-anchor="middle" stroke="#000" stroke-width="0.18" fill="#000" transform="translate(225.56,118.66) scale(0.9615,1)">47.5</text>
<text font-size="9.41" text-anchor="middle" stroke="#000" stroke-width="0.18" fill="#000" transform="translate(242.33,86.72) scale(0.9615,1)">+26.5</text>
<path d="M281.46 185.85V139.75" stroke="#000" stroke-width="6.1" stroke-linecap="round" fill="none"/>
<path d="M281.46 130.35L287.46 140.25L275.46 140.25Z" fill="#000"/>
<ellipse cx="281.26" cy="133.16" rx="0.7" ry="0.6" fill="#ddd"/>
<text font-size="9.41" text-anchor="middle" stroke="#000" stroke-width="0.18" fill="#000" transform="translate(281.46,198.1) scale(0.9615,1)">2</text>
<text font-size="9.41" text-anchor="middle" stroke="#000" stroke-width="0.18" fill="#000" transform="translate(298.23,164.85) scale(0.9615,1)">+28</text>
</g>
</g>
</svg></body></html>
